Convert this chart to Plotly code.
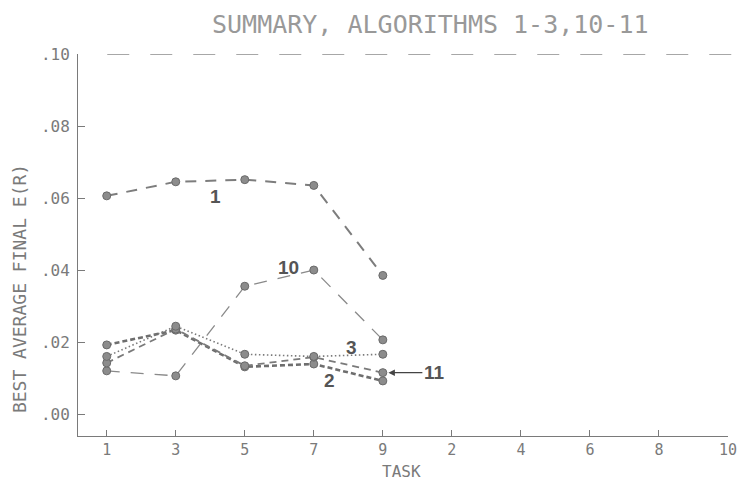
import plotly.graph_objects as go

# Task order along the horizontal axis (odd tasks first, then even)
task_order = ["1", "3", "5", "7", "9", "2", "4", "6", "8", "10"]
tasks_run = ["1", "3", "5", "7", "9"]

# Best average final E(R) per algorithm
alg1 = [0.0606, 0.0645, 0.0651, 0.0635, 0.0385]
alg2 = [0.0192, 0.0233, 0.0131, 0.0139, 0.0092]
alg3 = [0.0160, 0.0244, 0.0166, 0.0160, 0.0166]
alg10 = [0.0120, 0.0106, 0.0355, 0.0400, 0.0206]
alg11 = [0.0142, 0.0236, 0.0134, 0.0158, 0.0115]

y_ticks = [0.00, 0.02, 0.04, 0.06, 0.08, 0.10]
y_tick_text = [".00", ".02", ".04", ".06", ".08", ".10"]
reference_level = 0.10

MONO = "DejaVu Sans Mono"
AXIS_GREY = "#7a7a7a"
MARK_GREY = "#8c8c8c"

fig = go.Figure()

series = [
    ("1", alg1, dict(color="#7d7d7d", width=2.0, dash="11px,9px")),
    ("10", alg10, dict(color="#8a8a8a", width=1.3, dash="13px,11px")),
    ("2", alg2, dict(color="#6e6e6e", width=2.6, dash="5px,3px")),
    ("11", alg11, dict(color="#7a7a7a", width=1.8, dash="7px,5px")),
    ("3", alg3, dict(color="#7a7a7a", width=1.6, dash="1.5px,2.5px")),
]

for name, vals, line in series:
    fig.add_trace(go.Scatter(
        x=tasks_run, y=vals, mode="lines+markers", name=name,
        line=line,
        marker=dict(symbol="circle", size=8, color=MARK_GREY,
                    line=dict(color="#6a6a6a", width=1)),
        showlegend=False, cliponaxis=False,
    ))

# dashed reference line at the top of the scale
fig.add_shape(type="line", xref="paper", yref="y",
              x0=0.045, x1=1.03, y0=reference_level, y1=reference_level,
              line=dict(color="#8a8a8a", width=1.4, dash="22px,21px"))

label_font = dict(family="Liberation Sans", size=19, color="#555555")
fig.add_annotation(x=1.57, y=0.0605, text="<b>1</b>", showarrow=False, font=label_font)
fig.add_annotation(x=2.64, y=0.0406, text="<b>10</b>", showarrow=False, font=label_font)
fig.add_annotation(x=3.54, y=0.0186, text="<b>3</b>", showarrow=False, font=label_font)
fig.add_annotation(x=3.22, y=0.0092, text="<b>2</b>", showarrow=False, font=label_font)
fig.add_annotation(x=4.08, y=alg11[4], text="<b>11</b>", showarrow=True,
                   ax=46, ay=0, arrowhead=2, arrowsize=1, arrowwidth=1.3,
                   arrowcolor="#444444", font=label_font, standoff=0)

# axis titles
fig.add_annotation(xref="paper", yref="paper", x=-0.089, y=0.385,
                   xanchor="center", yanchor="middle",
                   text="BEST AVERAGE FINAL E(R)", textangle=-90, showarrow=False,
                   font=dict(family=MONO, size=18, color=AXIS_GREY))
fig.add_annotation(xref="paper", yref="paper", x=0.497, y=-0.093,
                   xanchor="center", yanchor="middle",
                   text="TASK", showarrow=False,
                   font=dict(family=MONO, size=16, color=AXIS_GREY))

fig.update_layout(
    width=747, height=482,
    margin=dict(l=78, r=19, t=54, b=46),
    paper_bgcolor="white", plot_bgcolor="white",
    title=dict(text="SUMMARY, ALGORITHMS 1-3,10-11", x=0.576, xanchor="center",
               y=0.95, yanchor="middle",
               font=dict(family=MONO, size=25, color="#999999")),
    xaxis=dict(
        type="category", categoryorder="array", categoryarray=task_order,
        range=[-0.416, 9.0], showgrid=False, zeroline=False, automargin=False,
        showline=True, linecolor=AXIS_GREY, linewidth=1,
        ticks="inside", ticklen=6, tickcolor=AXIS_GREY,
        tickfont=dict(family=MONO, size=15, color=AXIS_GREY),
    ),
    yaxis=dict(
        range=[-0.0061, 0.10], showgrid=False, zeroline=False, automargin=False,
        showline=True, linecolor=AXIS_GREY, linewidth=1,
        tickvals=y_ticks, ticktext=y_tick_text,
        ticks="inside", ticklen=7, tickcolor=AXIS_GREY,
        tickfont=dict(family=MONO, size=16, color=AXIS_GREY),
        ticklabelstandoff=4,
    ),
)

fig.write_html("out.html")
